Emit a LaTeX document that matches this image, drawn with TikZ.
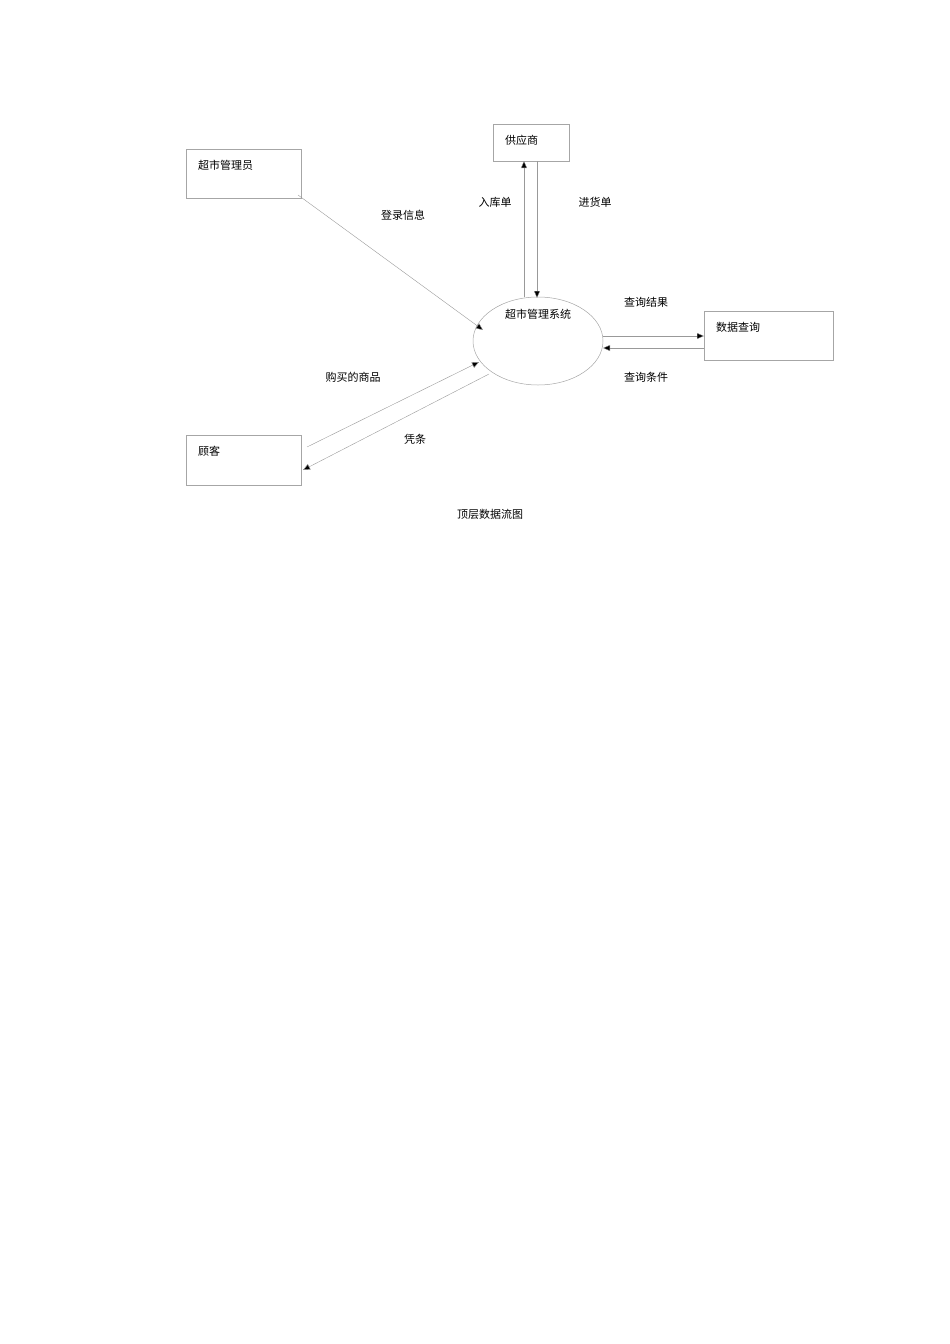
\documentclass[tikz,border=0pt]{standalone}
\usepackage{fontspec}
\setmainfont{Noto Sans CJK SC}
\usetikzlibrary{arrows.meta}
\begin{document}
\begin{tikzpicture}[x=1pt,y=-1pt,
  ent/.style={draw=gray!70,line width=0.5pt},
  flow/.style={draw=gray!80,line width=0.4pt,-{Triangle[length=7pt,width=6pt,fill=black]}},
  lab/.style={font=\fontsize{11}{13}\selectfont,inner sep=0pt}]
\useasboundingbox (0,0) rectangle (950,1344);
\draw[ent] (186,149) rectangle (301,198); \node[lab,anchor=west] (a) at (198,165) {超市管理员};
\draw[ent] (493,124) rectangle (569,161); \node[lab,anchor=west] (s) at (505,140) {供应商};
\draw[ent] (704,311) rectangle (833,360); \node[lab,anchor=west] (q) at (716,327) {数据查询};
\draw[ent] (186,435) rectangle (301,485); \node[lab,anchor=west] (c) at (198,451) {顾客};
\draw[ent] (538,341) ellipse [x radius=65, y radius=44];
\node[lab] (m) at (538,314) {超市管理系统};
\coordinate (a1) at (298,195); \coordinate (m1) at (483,330);
\draw[flow] (a1) -- (m1); \node[lab] at (403,215) {登录信息};
\coordinate (s1) at (524,161); \coordinate (m2) at (524,297);
\draw[flow] (m2) -- (s1); \node[lab] at (495,202) {入库单};
\coordinate (s2) at (537,161); \coordinate (m3) at (537,298);
\draw[flow] (s2) -- (m3); \node[lab] at (595,202) {进货单};
\coordinate (m4) at (603,336); \coordinate (q1) at (704,336);
\draw[flow] (m4) -- (q1); \node[lab] at (646,302) {查询结果};
\coordinate (q2) at (704,348); \coordinate (m5) at (603,348);
\draw[flow] (q2) -- (m5); \node[lab] at (646,377) {查询条件};
\coordinate (c1) at (307,447); \coordinate (m6) at (479,362);
\draw[flow] (c1) -- (m6); \node[lab] at (353,377) {购买的商品};
\coordinate (m7) at (489,374); \coordinate (c2) at (303,470);
\draw[flow] (m7) -- (c2); \node[lab] at (415,439) {凭条};
\node[lab] (cap) at (490,514) {顶层数据流图};
\end{tikzpicture}
\end{document}
